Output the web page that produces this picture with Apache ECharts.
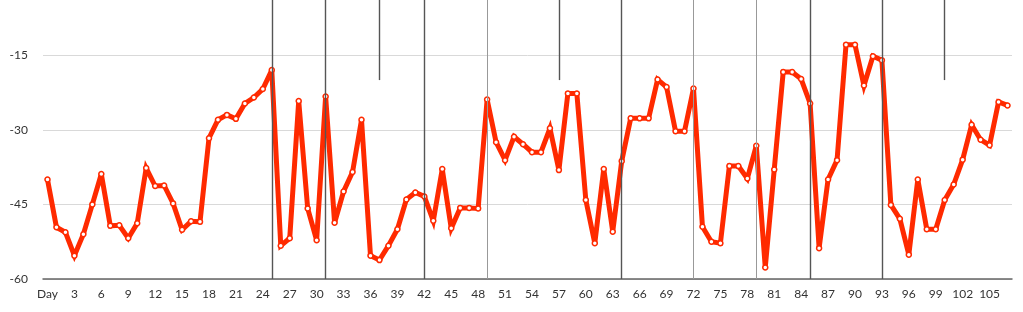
<!DOCTYPE html>
<html>
<head>
<meta charset="utf-8">
<script src="https://cdn.jsdelivr.net/npm/echarts@6/dist/echarts.min.js"></script>
<style>html,body{margin:0;padding:0;background:#fff;}#c{width:1023px;height:312px;}</style>
</head>
<body>
<div id="c"></div>
<script>
var categories = ['Day'];
for (var d = 1; d <= 107; d++) categories.push(String(d));

var values = [
  -40.0, -49.6, -50.6, -55.3, -51.0, -45.0, -38.9, -49.3, -49.2, -51.8,
  -48.8, -37.7, -41.3, -41.2, -44.8, -50.1, -48.4, -48.5, -31.7, -28.0,
  -27.0, -27.8, -24.7, -23.5, -21.8, -18.0, -53.3, -51.8, -24.2, -45.8,
  -52.2, -23.3, -48.7, -42.4, -38.5, -28.0, -55.3, -56.2, -53.3, -50.0,
  -44.0, -42.6, -43.4, -48.3, -37.9, -49.8, -45.7, -45.7, -45.8, -23.9,
  -32.5, -36.1, -31.4, -32.9, -34.5, -34.5, -29.7, -38.1, -22.7, -22.7,
  -44.1, -52.8, -37.9, -50.5, -36.3, -27.7, -27.7, -27.7, -19.9, -21.4,
  -30.3, -30.3, -21.7, -49.5, -52.5, -52.8, -37.3, -37.3, -39.8, -33.2,
  -57.7, -38.0, -18.4, -18.4, -19.8, -24.7, -53.8, -40.0, -36.1, -12.9,
  -12.9, -21.1, -15.2, -16.0, -45.1, -47.9, -55.1, -40.0, -50.0, -50.0,
  -44.1, -41.0, -36.0, -29.0, -32.0, -33.1, -24.4, -25.1
];

var darkLines = ['25', '31', '42', '64', '85', '93'];
var lightLines = ['49', '72', '79'];
var shortLines = ['37', '57', '100'];
var shortLineBottom = -20;

var yMin = -60, yMax = -3.9, yInterval = 15;

var markData = [];
darkLines.forEach(function (c) {
  markData.push({ xAxis: c, lineStyle: { color: '#555', width: 1.4, type: 'solid' } });
});
lightLines.forEach(function (c) {
  markData.push({ xAxis: c, lineStyle: { color: '#999', width: 1, type: 'solid' } });
});
shortLines.forEach(function (c) {
  markData.push([
    { coord: [c, yMax], lineStyle: { color: '#555', width: 1.4, type: 'solid' } },
    { coord: [c, shortLineBottom] }
  ]);
});

var chart = echarts.init(document.getElementById('c'), null, { renderer: 'canvas' });
chart.setOption({
  animation: false,
  backgroundColor: '#fff',
  grid: { left: 43, right: 11, top: 0, bottom: 33, containLabel: false },
  xAxis: {
    type: 'category',
    data: categories,
    boundaryGap: true,
    axisLine: { show: true, lineStyle: { color: '#666', width: 1.5 } },
    axisTick: { show: false },
    axisLabel: { interval: 2, color: '#333', fontSize: 12, fontFamily: 'Lato', margin: 9 },
    splitLine: { show: false }
  },
  yAxis: {
    type: 'value',
    min: yMin,
    max: yMax,
    interval: yInterval,
    axisLine: { show: false },
    axisTick: { show: false },
    axisLabel: { color: '#333', fontSize: 12, fontFamily: 'Lato', margin: 15, showMaxLabel: false },
    splitLine: { show: true, showMaxLine: false, lineStyle: { color: '#d9d9d9', width: 1 } }
  },
  series: [{
    type: 'line',
    data: values,
    symbol: 'circle',
    symbolSize: 5,
    showSymbol: true,
    lineStyle: { color: '#ff2a00', width: 5, join: 'miter', miterLimit: 4 },
    itemStyle: { color: '#ffffff', borderColor: '#ff2a00', borderWidth: 1.5 },
    z: 2,
    markLine: {
      silent: true,
      symbol: ['none', 'none'],
      label: { show: false },
      animation: false,
      data: markData
    }
  }]
});
</script>
</body>
</html>
